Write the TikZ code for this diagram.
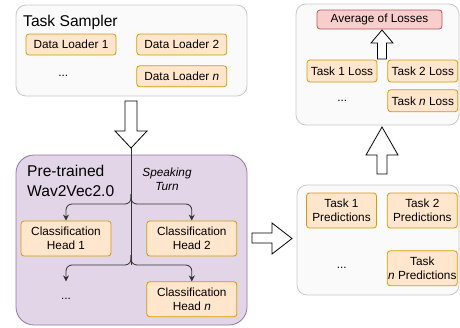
\documentclass[tikz,border=0pt]{standalone}
\usepackage{fontspec}
\setmainfont{Liberation Sans}
\usetikzlibrary{arrows.meta, positioning}

\definecolor{panelfill}{HTML}{FAFAFA}
\definecolor{panelline}{HTML}{C8C8C8}
\definecolor{modelfill}{HTML}{E1D5E7}
\definecolor{modelline}{HTML}{9673A6}
\definecolor{itemfill}{HTML}{FFE6CC}
\definecolor{itemline}{HTML}{D79B00}
\definecolor{lossfill}{HTML}{F8CECC}
\definecolor{lossline}{HTML}{B85450}

\begin{document}
\begin{tikzpicture}[x=1pt, y=-1pt, node distance=10pt, font=\fontsize{11.8}{14}\selectfont]
        % styles
        \tikzstyle{panel} = [rectangle, rounded corners=10pt, draw=panelline, fill=panelfill, line width=0.8pt]
        \tikzstyle{item} = [rectangle, rounded corners=3pt, draw=itemline, fill=itemfill, text centered, align=center, inner sep=0pt, line width=0.8pt]
        \tikzstyle{loaderbox} = [item, minimum width=90pt, minimum height=21pt]
        \tikzstyle{headbox} = [item, minimum width=90pt, minimum height=35pt]
        \tikzstyle{predbox} = [item, minimum width=70pt, minimum height=35pt]
        \tikzstyle{lossbox} = [item, minimum width=70pt, minimum height=22pt]
        \tikzstyle{title} = [font=\fontsize{15.6}{20}\selectfont, inner sep=0pt, align=left]
        \tikzstyle{blockarrow} = [draw=black, fill=white, line width=0.8pt, line join=miter]
        \tikzstyle{branch} = [draw=black!80, line width=0.8pt, rounded corners=6pt, -{Stealth[length=6pt, width=6pt]}]

        \useasboundingbox (0,0) rectangle (460,327);

        % Step 1: task sampler
        \node (sampler) [panel, minimum width=231pt, minimum height=91pt] at (131.5,50.5) {};
        \node (samplerTitle) [title, anchor=base west] at (23,26) {Task Sampler};
        \node (loader1) [loaderbox] at (71,44.5) {Data Loader 1};
        \node (loader2) [loaderbox, right=20pt of loader1] {Data Loader 2};
        \node (loadern) [loaderbox, below=10pt of loader2] {Data Loader \textit{n}};
        \node (loaderDots) [minimum width=90pt, minimum height=21pt, left=20pt of loadern, xshift=-8pt] {...};

        % Step 2: model with heads
        \node (model) [panel, rounded corners=18pt, draw=modelline, fill=modelfill, minimum width=231pt, minimum height=170pt] at (131.5,240) {};
        \node (modelTitle) [title, anchor=north west] at (27,165) {Pre-trained\\Wav2Vec2.0};
        \node (turn) [inner sep=0pt, anchor=north, align=center, font=\fontsize{11.8}{14}\selectfont\itshape] at (167,168) {Speaking\\Turn};
        \node (head1) [headbox] at (66,238.5) {Classification\\Head 1};
        \node (head2) [headbox, right=35pt of head1] {Classification\\Head 2};
        \node (headn) [headbox, below=25pt of head2] {Classification\\Head \textit{n}};
        \node (headDots) [minimum width=90pt, minimum height=35pt, below=25pt of head1] {...};

        % Step 3: predictions
        \node (predPanel) [panel, minimum width=162pt, minimum height=110pt] at (378,240) {};
        \node (pred1) [predbox] at (341.5,210.5) {Task 1\\Predictions};
        \node (pred2) [predbox, right=10pt of pred1] {Task 2\\Predictions};
        \node (predn) [predbox, below=22pt of pred2] {Task\\\textit{n} Predictions};
        \node (predDots) [minimum width=70pt, minimum height=35pt, left=10pt of predn] {...};

        % Step 4: losses
        \node (lossPanel) [panel, minimum width=163pt, minimum height=121pt] at (377.5,64.5) {};
        \node (avg) [item, draw=lossline, fill=lossfill, minimum width=125pt, minimum height=19pt] at (379.5,19.5) {Average of Losses};
        \node (loss1) [lossbox] at (342,71) {Task 1 Loss};
        \node (loss2) [lossbox, right=10pt of loss1] {Task 2 Loss};
        \node (lossn) [lossbox, below=7pt of loss2] {Task \textit{n} Loss};
        \node (lossDots) [minimum width=70pt, minimum height=22pt, left=10pt of lossn] {...};

        % block arrows
        \draw [blockarrow] (125,101) -- (137,101) -- (137,131) -- (147,131) -- (131,148) -- (115,131) -- (125,131) -- cycle;
        \draw [blockarrow] (252,233) -- (272,233) -- (272,223) -- (292,238.5) -- (272,254) -- (272,243) -- (252,243) -- cycle;
        \draw [blockarrow] (377,174) -- (377,155) -- (366,155) -- (382,127) -- (398,155) -- (387,155) -- (387,174) -- cycle;
        \draw [blockarrow] (377.5,59) -- (377.5,43) -- (371,43) -- (382,30) -- (393,43) -- (386.5,43) -- (386.5,59) -- cycle;

        % trunk and branches
        \coordinate (trunkTop) at (131,148);
        \coordinate (trunkBottom) at (131,265);
        \coordinate (splitA) at (131,194);
        \coordinate (turnA) at (131,204);
        \coordinate (splitB) at (131,255);
        \coordinate (turnB) at (131,265);
        \draw [draw=black!80, line width=0.8pt] (trunkTop) -- (trunkBottom);
        \draw [branch] (splitA) -- (turnA) -| (head1);
        \draw [branch] (splitA) -- (turnA) -| (head2);
        \draw [branch] (splitB) -- (turnB) -| (headDots);
        \draw [branch] (splitB) -- (turnB) -| (headn);

    \end{tikzpicture}
\end{document}
